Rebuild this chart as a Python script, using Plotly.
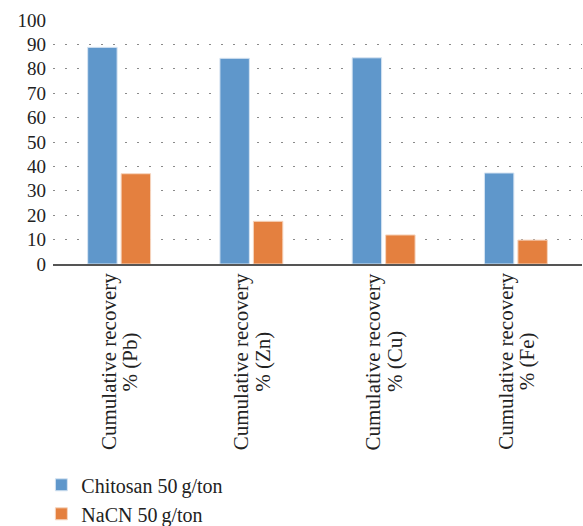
import plotly.graph_objects as go

# Categories and recovery values (%)
categories = ["Cumulative recovery<br>% (Pb)", "Cumulative recovery<br>% (Zn)",
              "Cumulative recovery<br>% (Cu)", "Cumulative recovery<br>% (Fe)"]
chitosan = [88.8, 84.3, 84.5, 37.3]
nacn = [37.0, 17.5, 11.9, 9.8]
series_names = ["Chitosan 50\u2009g/ton", "NaCN 50\u2009g/ton"]
y_ticks = [0, 10, 20, 30, 40, 50, 60, 70, 80, 90, 100]

FONT = "Liberation Serif"
BLUE = "#5F97CB"
ORANGE = "#E4803F"

fig = go.Figure()
fig.add_trace(go.Bar(x=categories, y=chitosan, name=series_names[0],
                     marker=dict(color=BLUE, line=dict(color="#D6E4F2", width=1))))
fig.add_trace(go.Bar(x=categories, y=nacn, name=series_names[1],
                     marker=dict(color=ORANGE, line=dict(color="#F6D5BF", width=1))))

# Category labels: rotated, each line centred on the same midpoint, tight line spacing
for c in categories:
    lines = c.split("<br>")
    for i, line in enumerate(lines):
        fig.add_annotation(x=c, xref="x", y=-0.40, yref="paper",
                           text=line, textangle=-90, showarrow=False,
                           xanchor="center", yanchor="middle",
                           xshift=(i - (len(lines) - 1) / 2) * 21.5,
                           font=dict(family=FONT, size=21, color="#222222"))

fig.update_layout(
    width=583, height=526,
    margin=dict(l=53, r=1, t=20, b=262, autoexpand=False),
    plot_bgcolor="white", paper_bgcolor="white",
    barmode="group", bargap=0.494, bargroupgap=0.12,
    font=dict(family=FONT, size=19, color="#222222"),
    showlegend=True,
    legend=dict(x=-0.022, xanchor="left", y=-0.825, yanchor="top",
                orientation="v", tracegroupgap=0, itemwidth=30,
                font=dict(family=FONT, size=20, color="#222222"),
                bgcolor="rgba(0,0,0,0)"),
)
fig.update_xaxes(showticklabels=False, showgrid=False, ticks="",
                 showline=True, linecolor="#555555", linewidth=2)
fig.update_yaxes(range=[0, 100], tickvals=y_ticks, showline=False, zeroline=False,
                 showgrid=True, gridcolor="#8a8a8a", gridwidth=1, griddash="2px,10px",
                 ticks="", ticklabelstandoff=6,
                 tickfont=dict(family=FONT, size=19, color="#222222"))

fig.write_html("out.html")
